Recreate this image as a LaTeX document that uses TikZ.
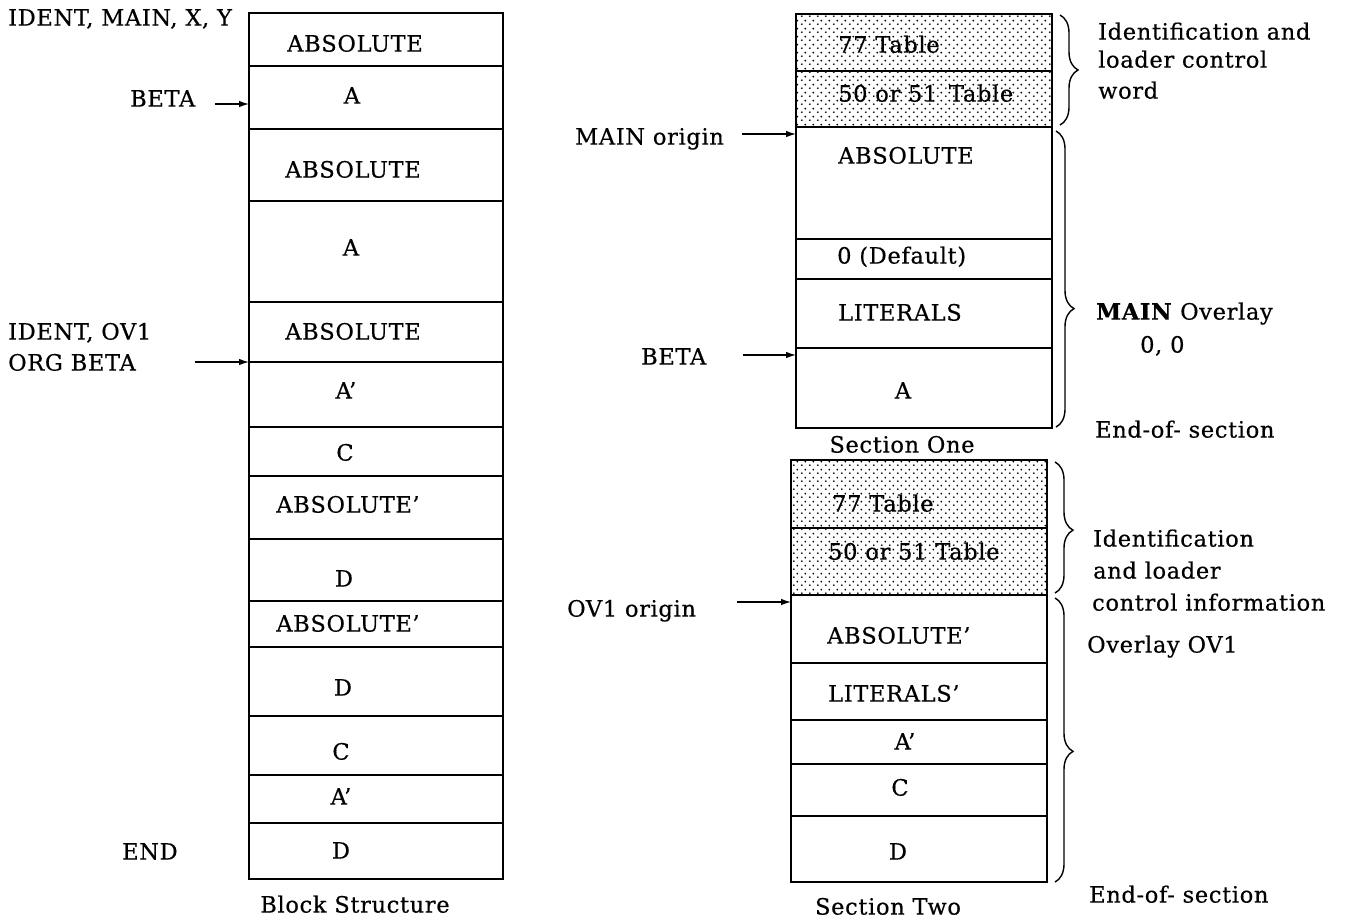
\documentclass[tikz,border=0pt]{standalone}
\usepackage{fontspec}
\setmainfont[FakeBold=0.5,LetterSpace=3]{DejaVu Serif}
\usetikzlibrary{arrows.meta,patterns.meta,decorations.pathreplacing}
\tikzdeclarepattern{name=stipple, type=uncolored, bottom left={(0pt,0pt)}, top right={(8pt,8pt)}, tile size={(8pt,8pt)},
  code={\fill (2pt,2pt) circle (1.1pt); \fill (6pt,6pt) circle (1.1pt);}}
\begin{document}
\begin{tikzpicture}[x=1pt,y=-1pt,
  box/.style={draw,line width=1.5pt},
  rowline/.style={line width=1.5pt},
  shaded/.style={pattern=stipple},
  txt/.style={inner sep=0pt,anchor=mid west,yshift=-4pt,font=\fontsize{22.5}{26}\selectfont},
  ctxt/.style={inner sep=0pt,anchor=mid,yshift=-4pt,font=\fontsize{22.5}{26}\selectfont},
  pointer/.style={-{Latex[length=10pt,width=6.5pt]},line width=1.2pt},
  br/.style={decorate,decoration={brace,amplitude=18pt,aspect=#1},line width=1.4pt}
]
\useasboundingbox (0,0) rectangle (1348,922);

% ---------------- Block structure ----------------
\draw[box] (249,13) rectangle (503,879);
\foreach \y in {66,129,201,302,362,427,476,539,601,647,716,775,823}
  \draw[rowline] (249,\y) -- (503,\y);
\coordinate (bsBeta) at (249,104);
\coordinate (bsOrg) at (249,362);

\node[ctxt] (b1) at (355,45) {ABSOLUTE};
\node[ctxt] (b2) at (352,97) {A};
\node[ctxt] (b3) at (353,171) {ABSOLUTE};
\node[ctxt] (b4) at (351,249) {A};
\node[ctxt] (b5) at (353,333) {ABSOLUTE};
\node[ctxt] (b6) at (346,392) {A'};
\node[ctxt] (b7) at (345,454) {C};
\node[ctxt] (b8) at (348,506) {ABSOLUTE'};
\node[ctxt] (b9) at (344,580) {D};
\node[ctxt] (b10) at (348,625) {ABSOLUTE'};
\node[ctxt] (b11) at (343,689) {D};
\node[ctxt] (b12) at (341,753) {C};
\node[ctxt] (b13) at (341,798) {A'};
\node[ctxt] (b14) at (341,852) {D};
\node[ctxt] (bcap) at (355,906) {Block Structure};

\node[txt] (lident) at (8,19) {IDENT, MAIN, X, Y};
\node[txt] (lbeta) at (130,100) {BETA};
\node[txt] (lov) at (8,333) {IDENT, OV1};
\node[txt] (lorg) at (8,364) {ORG BETA};
\node[txt] (lend) at (122,853) {END};
\coordinate (aBeta) at (215,104);
\coordinate (aOrg) at (195,362);
\draw[pointer] (aBeta) -- (bsBeta);
\draw[pointer] (aOrg) -- (bsOrg);

% ---------------- Section One ----------------
\draw[box,shaded] (796,14) rectangle (1052,127);
\draw[rowline] (796,71) -- (1052,71);
\draw[box] (796,127) rectangle (1052,428);
\foreach \y in {239,279,348}
  \draw[rowline] (796,\y) -- (1052,\y);
\coordinate (s1Main) at (796,134);
\coordinate (s1Beta) at (796,355);

\node[txt] (s1a) at (838,46) {77 Table};
\node[txt] (s1b) at (838,95) {50 or 51\, Table};
\node[txt] (s1c) at (838,157) {ABSOLUTE};
\node[txt] (s1d) at (837,257) {0 (Default)};
\node[txt] (s1e) at (838,314) {LITERALS};
\node[ctxt] (s1f) at (903,392) {A};
\node[ctxt] (s1cap) at (902,446) {Section One};

\node[txt] (lmain) at (575,138) {MAIN origin};
\node[txt] (lbeta2) at (641,358) {BETA};
\coordinate (aMain) at (742,134);
\coordinate (aBeta2) at (743,355);
\draw[pointer] (aMain) -- (s1Main);
\draw[pointer] (aBeta2) -- (s1Beta);

\coordinate (br1t) at (1060,15);  \coordinate (br1b) at (1060,125);
\coordinate (br2t) at (1056,131); \coordinate (br2b) at (1056,427);
\draw[br=0.5] (br1t) -- (br1b);
\draw[br=0.6] (br2t) -- (br2b);

\node[txt] (r1) at (1098,33) {Identification and};
\node[txt] (r2) at (1098,61) {loader control};
\node[txt] (r3) at (1098,92) {word};
\node[txt] (r4) at (1096,313) {\textbf{MAIN} Overlay};
\node[txt] (r5) at (1140,346) {0, 0};
\node[txt] (r6) at (1095,431) {End-of- section};

% ---------------- Section Two ----------------
\draw[box,shaded] (791,460) rectangle (1047,595);
\draw[rowline] (791,528) -- (1047,528);
\draw[box] (791,595) rectangle (1047,882);
\foreach \y in {663,720,764,816}
  \draw[rowline] (791,\y) -- (1047,\y);
\coordinate (s2Ov) at (791,602);

\node[txt] (s2a) at (832,505) {77 Table};
\node[txt] (s2b) at (828,553) {50 or 51 Table};
\node[txt] (s2c) at (827,637) {ABSOLUTE'};
\node[txt] (s2d) at (828,695) {LITERALS'};
\node[ctxt] (s2e) at (905,743) {A'};
\node[ctxt] (s2f) at (900,789) {C};
\node[ctxt] (s2g) at (898,853) {D};
\node[ctxt] (s2cap) at (888,908) {Section Two};

\node[txt] (lov1) at (567,610) {OV1 origin};
\coordinate (aOv) at (737,602);
\draw[pointer] (aOv) -- (s2Ov);

\coordinate (br3t) at (1055,462); \coordinate (br3b) at (1055,593);
\coordinate (br4t) at (1055,598); \coordinate (br4b) at (1055,882);
\draw[br=0.52] (br3t) -- (br3b);
\draw[br=0.54] (br4t) -- (br4b);

\node[txt] (q1) at (1093,540) {Identification};
\node[txt] (q2) at (1093,572) {and loader};
\node[txt] (q3) at (1092,604) {control information};
\node[txt] (q4) at (1087,646) {Overlay OV1};
\node[txt] (q5) at (1089,896) {End-of- section};
\end{tikzpicture}
\end{document}
